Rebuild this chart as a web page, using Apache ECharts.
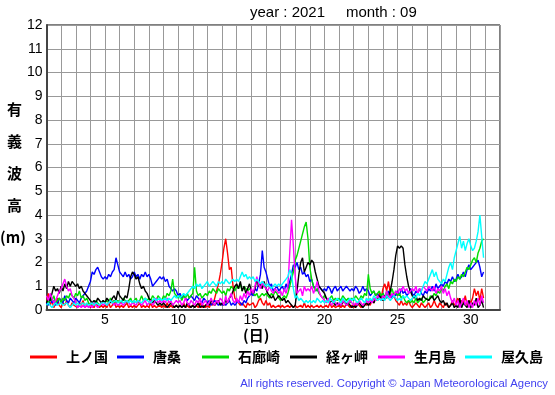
<!DOCTYPE html>
<html>
<head>
<meta charset="utf-8">
<script src="https://cdn.jsdelivr.net/npm/echarts@6/dist/echarts.min.js"></script>
<style>
html,body{margin:0;padding:0;background:#fff;}
#chart{width:555px;height:395px;}
</style>
</head>
<body>
<div id="chart"></div>
<script>
// ---- data (3-hourly significant wave height, m; Sept 2021) ----
const startDay = 1;
const stepDays = 0.125;
const seriesNames = ['上ノ国', '唐桑', '石廊崎', '経ヶ岬', '生月島', '屋久島'];
const xTickLabels = [5, 10, 15, 20, 25, 30];
const titleText = 'year : 2021     month : 09';

const kaminokuni = [
0.3,0.7,0.2,0.4,0.1,0.3,0.5,0.2, 0.1,0.3,0.2,0.4,0.2,0.1,0.3,0.2, 0.2,0.1,0.3,0.2,0.4,0.1,0.2,0.3,
0.1,0.2,0.1,0.3,0.2,0.1,0.2,0.1, 0.2,0.1,0.3,0.1,0.2,0.4,0.1,0.2, 0.1,0.2,0.1,0.2,0.3,0.1,0.2,0.1,
0.2,0.1,0.1,0.3,0.1,0.2,0.1,0.2, 0.1,0.3,0.1,0.2,0.1,0.1,0.2,0.1, 0.2,0.1,0.3,0.1,0.2,0.1,0.1,0.2,
0.1,0.2,0.1,0.3,0.1,0.2,0.1,0.1, 0.2,0.1,0.2,0.1,0.3,0.1,0.2,0.1, 0.2,0.1,0.3,0.2,0.5,0.8,1.1,1.5,
2.0,2.6,3.0,2.4,1.7,1.8,1.0,0.5, 0.4,0.3,0.2,0.3,0.2,0.1,0.3,0.2, 0.2,0.3,0.1,0.2,0.4,0.5,0.3,0.2,
0.4,0.2,0.3,0.1,0.2,0.1,0.1,0.2, 0.1,0.2,0.1,0.1,0.2,0.1,0.2,0.1, 0.2,0.1,0.1,0.2,0.1,0.3,0.1,0.2,
0.1,0.2,0.1,0.1,0.2,0.1,0.2,0.1, 0.1,0.2,0.1,0.3,0.1,0.2,0.1,0.1, 0.2,0.1,0.2,0.1,0.3,0.2,0.1,0.2,
0.1,0.2,0.3,0.2,0.1,0.2,0.3,0.2, 0.3,0.2,0.4,0.3,0.5,0.4,0.7,0.5, 0.9,1.1,0.8,1.2,0.7,0.5,0.6,0.4,
0.3,0.2,0.4,0.2,0.3,0.2,0.4,0.2, 0.1,0.2,0.3,0.2,0.1,0.3,0.2,0.1, 0.2,0.3,0.1,0.2,0.4,0.2,0.1,0.3,
0.2,0.1,0.3,0.2,0.1,0.2,0.4,0.2, 0.3,0.5,0.2,0.4,0.3,0.6,0.2,0.4, 0.3,0.5,0.9,0.6,0.8,0.4,0.9,0.5
];

const karakuwa = [
0.3,0.2,0.5,0.3,0.4,0.2,0.3,0.5, 0.4,0.3,0.6,0.4,0.3,0.5,0.4,0.3, 0.5,0.4,0.3,0.5,0.6,0.6,0.8,1.0,
1.2,1.6,1.5,1.7,1.8,1.6,1.4,1.3, 1.4,1.3,1.5,1.4,1.6,1.7,2.2,1.9, 1.6,1.5,1.4,1.6,1.4,1.5,1.3,1.4,
1.6,1.4,1.5,1.3,1.5,1.4,1.6,1.4, 1.5,1.3,1.0,1.1,1.2,1.3,1.4,1.3, 1.4,1.2,1.3,1.0,0.9,0.8,0.9,0.8,
0.6,0.7,0.5,0.6,0.5,0.4,0.5,0.6, 0.5,0.4,0.6,0.5,0.4,0.3,0.5,0.4, 0.3,0.4,0.2,0.3,0.4,0.3,0.2,0.3,
0.2,0.3,0.2,0.3,0.4,0.2,0.3,0.2, 0.3,0.4,0.3,0.2,0.4,0.3,0.5,0.6, 0.7,0.6,0.9,0.8,1.1,1.5,2.5,1.8,
1.6,1.3,1.0,1.1,0.8,0.9,1.0,0.8, 0.9,1.0,0.8,1.1,0.9,1.2,1.5,1.9, 1.8,2.0,1.7,1.8,1.5,1.6,1.4,1.5,
1.2,1.3,1.0,0.9,0.8,1.0,0.9,0.8, 0.9,0.8,1.0,0.9,0.7,0.9,1.0,0.8, 0.9,1.0,0.8,0.9,1.0,0.9,0.8,0.9,
0.8,1.0,0.9,0.7,0.8,1.0,0.8,0.9, 0.8,0.6,0.7,0.8,0.6,0.7,0.5,0.6, 0.7,0.5,0.6,0.8,0.6,0.5,0.7,0.6,
0.8,0.6,0.9,0.7,0.8,0.6,0.7,0.9, 0.7,0.6,0.8,0.7,0.9,0.7,0.6,0.8, 0.7,0.9,0.8,1.0,0.8,1.1,0.9,1.0,
1.1,1.0,1.2,1.1,1.3,1.2,1.4,1.2, 1.3,1.5,1.3,1.4,1.6,1.4,1.7,1.9, 1.7,1.8,1.9,2.0,2.1,1.8,1.4,1.6
];

const irouzaki = [
0.4,0.3,0.5,0.4,0.6,0.3,0.4,0.5, 0.3,0.5,0.4,0.6,0.5,0.7,0.6,0.5, 0.7,0.6,0.8,0.5,0.6,0.4,0.5,0.3,
0.2,0.3,0.2,0.4,0.3,0.2,0.3,0.4, 0.3,0.4,0.3,0.5,0.3,0.4,0.3,0.4, 0.4,0.3,0.5,0.4,0.3,0.4,0.5,0.3,
0.4,0.5,0.3,0.4,0.6,0.4,0.5,0.4, 0.5,0.4,0.6,0.5,0.4,0.6,0.5,0.4, 0.6,0.5,0.7,0.6,0.8,1.3,0.7,0.6,
0.5,0.6,0.4,0.6,0.5,0.7,0.5,0.6, 0.7,1.8,0.8,0.6,0.7,0.5,0.6,0.7, 0.6,0.8,0.7,0.9,0.8,0.7,0.9,0.8,
0.7,0.8,0.6,0.9,0.8,1.0,0.9,0.8, 1.0,0.9,1.1,0.8,1.0,0.9,0.8,0.9, 0.8,0.7,0.6,0.7,0.5,0.6,0.7,0.6,
0.7,0.6,0.5,0.7,0.6,0.8,0.7,0.5, 0.4,0.5,0.6,0.5,0.7,1.0,1.3,1.6, 2.1,2.3,2.6,2.9,3.2,3.5,3.7,3.0,
1.8,1.3,1.0,0.8,0.9,0.7,0.6,0.5, 0.6,0.5,0.4,0.5,0.6,0.4,0.5,0.4, 0.5,0.4,0.6,0.5,0.4,0.5,0.3,0.5,
0.4,0.6,0.5,0.4,0.6,0.5,0.7,0.6, 1.5,0.9,0.7,0.8,0.6,0.7,0.8,0.6, 0.7,0.5,0.8,0.6,0.7,0.9,0.6,0.8,
0.6,0.7,0.5,0.6,0.4,0.3,0.4,0.3, 0.4,0.3,0.5,0.3,0.4,0.5,0.3,0.4, 0.5,0.4,0.6,0.5,0.7,0.6,0.8,0.7,
0.9,0.8,1.0,1.1,0.9,1.2,1.1,1.3, 1.2,1.4,1.3,1.5,1.4,1.6,1.8,1.7, 1.9,2.1,2.2,2.0,2.4,2.6,2.9,3.0
];

const kyougamisaki = [
0.3,0.5,0.4,0.7,1.0,0.8,0.9,0.7, 1.0,0.8,1.1,0.9,1.2,1.0,1.2,1.1, 1.0,1.1,0.9,1.0,0.8,0.7,0.6,0.5,
0.4,0.3,0.4,0.3,0.5,0.4,0.3,0.4, 0.3,0.5,0.4,0.3,0.5,0.6,0.4,0.8, 0.6,0.5,0.4,0.6,0.5,0.9,1.4,1.6,
1.5,1.3,1.4,1.1,0.9,1.0,0.8,0.7, 0.5,0.4,0.3,0.4,0.3,0.2,0.3,0.2, 0.3,0.2,0.1,0.2,0.3,0.2,0.1,0.2,
0.1,0.2,0.1,0.2,0.1,0.3,0.2,0.1, 0.2,0.1,0.2,0.3,0.1,0.2,0.1,0.2, 0.3,0.2,0.4,0.3,0.2,0.3,0.4,0.2,
0.3,0.2,0.4,0.3,0.5,0.6,0.8,1.0, 1.1,0.9,1.2,0.8,1.0,0.7,0.9,1.1, 0.8,0.7,0.9,1.3,1.0,1.1,0.9,1.2,
0.9,0.7,0.7,0.5,0.6,0.4,0.5,0.6, 0.5,0.4,0.5,0.3,0.4,0.3,0.2,0.1, 0.2,0.8,1.5,2.0,2.2,1.6,1.8,2.0,
1.9,2.1,2.0,1.6,1.3,1.0,0.9,0.8, 0.7,0.5,0.4,0.3,0.4,0.3,0.2,0.3, 0.3,0.2,0.3,0.4,0.2,0.3,0.2,0.1,
0.2,0.1,0.2,0.3,0.2,0.1,0.2,0.3, 0.2,0.3,0.4,0.3,0.5,0.4,0.6,0.5, 0.4,0.6,0.5,0.6,0.8,1.2,1.7,2.3,
2.7,2.6,2.7,2.6,1.9,1.4,1.0,0.8, 0.6,0.5,0.6,0.4,0.5,0.4,0.6,0.5, 0.5,0.4,0.5,0.6,0.4,0.5,0.6,0.4,
0.3,0.4,0.2,0.3,0.1,0.2,0.3,0.1, 0.2,0.1,0.5,0.1,0.3,0.2,0.1,0.4, 0.1,0.3,0.2,0.5,0.1,0.2,0.4,0.1
];

const ikitsukishima = [
0.6,0.4,0.7,0.5,0.3,0.4,0.6,0.8, 0.9,1.1,1.3,1.0,0.8,0.9,0.6,0.5, 0.3,0.1,0.2,0.1,0.2,0.1,0.2,0.1,
0.2,0.1,0.3,0.2,0.1,0.2,0.3,0.2, 0.3,0.2,0.2,0.4,0.3,0.2,0.3,0.2, 0.2,0.3,0.2,0.3,0.4,0.3,0.2,0.3,
0.3,0.2,0.4,0.3,0.2,0.3,0.4,0.2, 0.3,0.4,0.2,0.3,0.5,0.3,0.4,0.3, 0.4,0.3,0.5,0.3,0.4,0.2,0.3,0.4,
0.3,0.4,0.2,0.3,0.5,0.3,0.2,0.4, 0.3,0.2,0.4,0.3,0.5,0.2,0.3,0.4, 0.2,0.3,0.5,0.3,0.2,0.4,0.3,0.5,
0.4,0.2,0.6,0.3,0.5,0.7,0.4,0.3, 0.5,0.3,0.6,0.4,0.7,0.5,0.8,0.6, 0.9,0.7,1.0,1.4,1.1,0.9,1.2,1.0,
0.9,0.8,1.0,0.8,0.7,0.9,0.8,0.7, 0.8,0.6,0.9,0.7,1.0,1.0,3.8,2.7, 1.4,0.7,0.7,0.9,0.6,1.0,0.8,0.9,
0.8,1.0,0.7,0.9,1.2,0.8,0.6,0.5, 0.4,0.3,0.5,0.3,0.2,0.4,0.3,0.2, 0.3,0.2,0.4,0.3,0.2,0.3,0.4,0.3,
0.2,0.3,0.2,0.4,0.3,0.2,0.3,0.4, 0.3,0.4,0.3,0.5,0.4,0.6,0.5,0.4, 0.6,0.5,0.8,0.6,0.5,0.7,0.6,0.8,
0.7,0.9,0.8,1.0,0.8,0.9,0.7,0.8, 0.9,0.8,1.0,0.7,0.9,0.8,1.0,0.9, 0.8,1.0,0.9,0.8,1.0,0.7,0.9,0.8,
1.0,0.7,0.9,0.6,0.8,0.5,0.3,0.5, 0.2,0.4,0.1,0.3,0.5,0.2,0.4,0.1, 0.3,0.1,0.4,0.2,0.5,0.2,0.6,0.3
];

const yakushima = [
0.2,0.3,0.2,0.1,0.2,0.3,0.2,0.2, 0.3,0.2,0.2,0.3,0.2,0.1,0.2,0.3, 0.2,0.3,0.2,0.2,0.3,0.2,0.3,0.2,
0.2,0.3,0.2,0.3,0.3,0.2,0.3,0.3, 0.3,0.2,0.3,0.4,0.3,0.3,0.4,0.3, 0.3,0.4,0.3,0.3,0.4,0.3,0.4,0.3,
0.4,0.3,0.4,0.4,0.3,0.4,0.5,0.4, 0.4,0.3,0.4,0.5,0.4,0.4,0.5,0.4, 0.4,0.5,0.4,0.5,0.4,0.5,0.6,0.5,
0.6,0.5,0.6,0.7,0.6,0.7,0.8,0.9, 1.0,0.9,1.1,1.0,1.1,0.9,1.0,1.1, 1.2,1.0,1.1,1.2,1.1,1.0,1.2,1.1,
1.2,1.1,1.3,1.2,1.1,1.2,1.3,1.2, 1.3,1.2,1.4,1.6,1.4,1.5,1.3,1.4, 1.3,1.4,1.2,1.3,1.2,1.1,1.2,1.1,
1.0,1.1,1.0,0.9,1.0,1.1,1.0,1.1, 1.0,1.1,1.2,1.3,1.4,1.7,1.5,0.9, 0.5,0.6,0.4,0.5,0.4,0.3,0.4,0.3,
0.4,0.3,0.4,0.3,0.5,0.4,0.3,0.4, 0.3,0.4,0.3,0.5,0.4,0.3,0.4,0.5, 0.4,0.3,0.5,0.4,0.3,0.4,0.5,0.4,
0.5,0.4,0.3,0.4,0.5,0.4,0.3,0.5, 0.4,0.5,0.4,0.6,0.5,0.4,0.5,0.4, 0.5,0.4,0.6,0.5,0.4,0.5,0.6,0.5,
0.4,0.5,0.4,0.6,0.5,0.6,0.5,0.4, 0.5,0.6,0.5,0.7,0.6,0.8,1.0,1.2, 1.1,1.3,1.5,1.7,1.4,1.6,1.3,1.2,
1.1,1.3,1.2,1.5,1.8,2.0,1.7,2.2, 2.5,2.8,3.1,2.6,2.9,2.5,2.8,3.0, 2.7,2.5,2.6,2.9,3.3,4.0,3.1,2.2
];

const seriesValues = [kaminokuni, karakuwa, irouzaki, kyougamisaki, ikitsukishima, yakushima];
const seriesColors = ['#ff0000', '#0000ff', '#00dd00', '#000000', '#ff00ff', '#00ffff'];

function toPairs(vals) {
  return vals.map((v, i) => [startDay + i * stepDays, v]);
}

const chart = echarts.init(document.getElementById('chart'), null, {renderer: 'canvas'});
const cjk = '"Noto Sans CJK JP", sans-serif';
const latin = '"Liberation Sans", Arial, sans-serif';

const yNameChars = ['有', '義', '波', '高'];
const graphics = [];
yNameChars.forEach((c, i) => {
  graphics.push({
    type: 'text', left: 7, top: 102 + i * 32,
    style: {text: c, font: 'bold 15px ' + cjk, fill: '#000'}
  });
});
graphics.push({type: 'text', left: 0, top: 230, style: {text: '(m)', font: 'bold 15px ' + cjk, fill: '#000'}});
graphics.push({type: 'text', left: 243, top: 328, style: {text: '(日)', font: 'bold 15px ' + cjk, fill: '#000'}});
graphics.push({type: 'text', left: 250, top: 5, style: {text: titleText, font: '15px ' + latin, fill: '#000'}});
graphics.push({type: 'text', right: 7, top: 378, style: {text: 'All rights reserved. Copyright © Japan Meteorological Agency', font: '11.3px ' + latin, fill: '#4040f0'}});

// one legend per item so every slot sits at a fixed x position
const legendLeft = [30, 117, 202, 290, 378, 465];
const legends = seriesNames.map((name, i) => ({
  left: legendLeft[i], top: 350, padding: 0, itemWidth: 27, itemHeight: 3, icon: 'rect',
  data: [name],
  textStyle: {fontFamily: cjk, fontSize: 14, fontWeight: 'bold', color: '#000', padding: [0, 0, 0, 4]}
}));

chart.setOption({
  animation: false,
  backgroundColor: '#fff',
  grid: {left: 46.5, right: 55, top: 25, bottom: 85, show: true, borderColor: '#000', borderWidth: 1},
  xAxis: {
    type: 'value', min: 1, max: 32, interval: 1,
    axisLine: {show: true, onZero: false, lineStyle: {color: '#444', width: 2}},
    axisTick: {show: false},
    axisLabel: {
      margin: 3, color: '#000', fontSize: 14, fontFamily: latin,
      formatter: v => (xTickLabels.indexOf(v) >= 0 ? String(v) : '')
    },
    splitLine: {show: true, lineStyle: {color: '#999', width: 1}}
  },
  yAxis: {
    type: 'value', min: 0, max: 12, interval: 1,
    axisLine: {show: true, lineStyle: {color: '#444', width: 2}},
    axisTick: {show: false},
    axisLabel: {margin: 4, color: '#000', fontSize: 14, fontFamily: latin},
    splitLine: {show: true, lineStyle: {color: '#999', width: 1}}
  },
  legend: legends,
  graphic: graphics,
  series: seriesNames.map((name, k) => ({
    name: name, type: 'line', showSymbol: false, symbol: 'none',
    data: toPairs(seriesValues[k]),
    itemStyle: {color: seriesColors[k]},
    lineStyle: {color: seriesColors[k], width: 1.4},
    emphasis: {disabled: true}
  }))
});
</script>
</body>
</html>
